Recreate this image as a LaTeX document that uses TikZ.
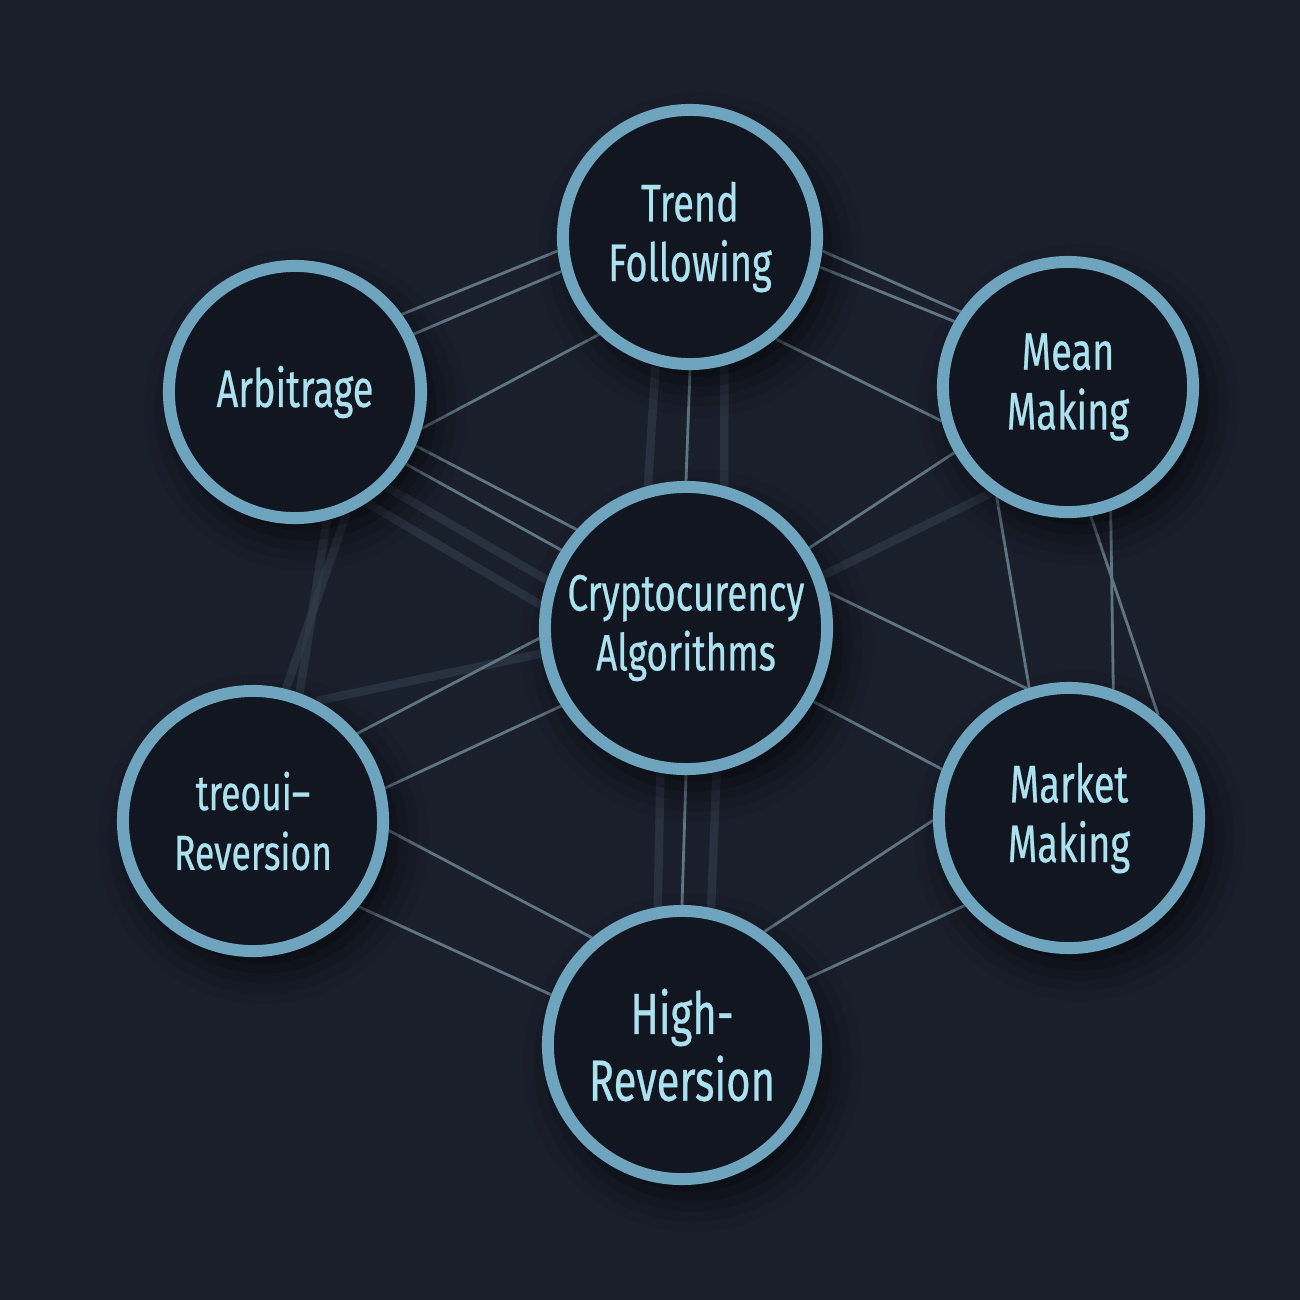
\documentclass[tikz,border=0pt]{standalone}
\usepackage{fontspec}
\setsansfont{Fira Sans}[FakeStretch=0.72, FakeBold=0.5]
\definecolor{algo_bg}{RGB}{26, 31, 44}
\definecolor{algo_disc}{RGB}{17, 22, 32}
\definecolor{algo_ring}{RGB}{110, 164, 190}
\definecolor{algo_text}{RGB}{172, 226, 240}
\definecolor{algo_wire}{RGB}{96, 116, 132}
\definecolor{algo_faint}{RGB}{50, 62, 76}
\usepackage{tikz}
\usetikzlibrary{shadows.blur}
\pgfdeclarelayer{wires}
\pgfsetlayers{wires,main}

\begin{document}
\begin{tikzpicture}[x=0.01cm, y=-0.01cm,
    algo/.style={circle, draw=algo_ring, line width=3.4pt, fill=algo_disc,
      inner sep=0pt, align=center, text=algo_text,
      font=\sffamily\fontsize{15}{17}\selectfont,
      blur shadow={shadow xshift=3pt, shadow yshift=-5pt,
        shadow blur radius=10pt, shadow opacity=75}},
    wire/.style={draw=algo_wire, line width=0.8pt},
    faint/.style={draw=algo_faint, line width=2.4pt, opacity=0.6}]

    % strategies round the core
    \node[algo, minimum size=2.54cm] (trend)  at (690, 237)  {Trend\\Following};
    \node[algo, minimum size=2.50cm] (mean)   at (1068, 387) {Mean\\Making};
    \node[algo, minimum size=2.52cm] (arb)    at (295, 392)  {Arbitrage};
    \node[algo, minimum size=2.82cm, font=\sffamily\fontsize{14.5}{17}\selectfont]
                                     (core)   at (686, 628)  {Cryptocurency\\Algorithms};
    \node[algo, minimum size=2.60cm, font=\sffamily\fontsize{14}{17}\selectfont]
                                     (revl)   at (253, 821)  {treoui--\\Reversion};
    \node[algo, minimum size=2.60cm] (market) at (1069, 818) {Market\\Making};
    \node[algo, minimum size=2.68cm, font=\sffamily\fontsize{16.5}{19}\selectfont]
                                     (high)   at (682, 1045) {High-\\Reversion};

    \begin{pgfonlayer}{wires}
    \fill[algo_bg] (0, 0) rectangle (1300, 1300);

    % faint shadow lines
    \draw[faint] (arb.-46) -- (core.161);
    \draw[faint] (arb.-57) -- (core.171);
    \draw[faint] (arb.-67) -- (revl.76);
    \draw[faint] (arb.-76) -- (revl.70);
    \draw[faint] (mean.234) -- (core.21);
    \draw[faint] (trend.-75) -- (core.75);
    \draw[faint] (trend.-105) -- (core.105);
    \draw[faint] (core.-78) -- (high.78);
    \draw[faint] (core.-100) -- (high.100);
    \draw[faint] (revl.62) -- (core.190);

    % wires
    \draw[wire] (arb.36) -- (trend.186);
    \draw[wire] (arb.26) -- (trend.195);
    \draw[wire] (arb.-16) -- (trend.227);
    \draw[wire] (trend.-6) -- (mean.145);
    \draw[wire] (trend.-13) -- (mean.150);
    \draw[wire] (trend.-50) -- (mean.195);
    \draw[wire] (trend.-90) -- (core.90);
    \draw[wire] (arb.-24) -- (core.138);
    \draw[wire] (arb.-33) -- (core.148);
    \draw[wire] (mean.210) -- (core.33);
    \draw[wire] (core.14) -- (market.108);
    \draw[wire] (core.-30) -- (market.159);
    \draw[wire] (mean.237) -- (market.107);
    \draw[wire] (mean.-80) -- (market.49);
    \draw[wire] (mean.-71) -- (market.71);
    \draw[wire] (revl.40) -- (core.184);
    \draw[wire] (core.212) -- (revl.14);
    \draw[wire] (revl.-4) -- (high.130);
    \draw[wire] (revl.-39) -- (high.159);
    \draw[wire] (core.-90) -- (high.90);
    \draw[wire] (high.54) -- (market.181);
    \draw[wire] (high.28) -- (market.220);
    \end{pgfonlayer}
  \end{tikzpicture}
\end{document}
